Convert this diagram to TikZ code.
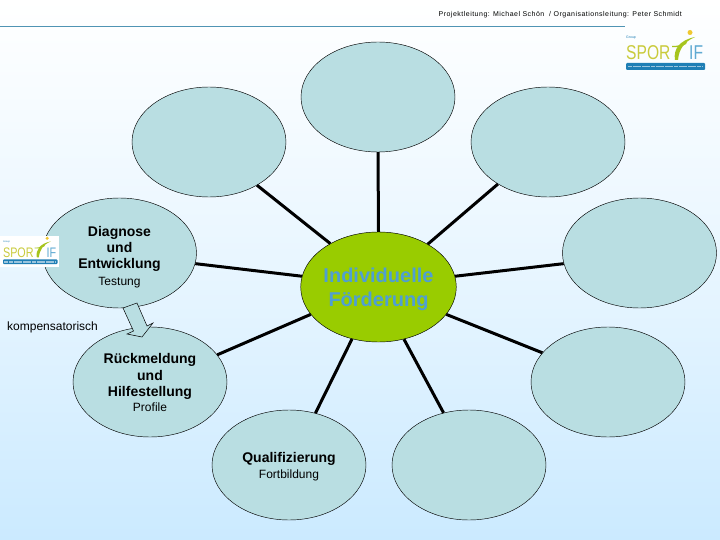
\documentclass[tikz,border=0pt]{standalone}
\usepackage{fontspec}
\usetikzlibrary{shapes.geometric}
\setmainfont{Liberation Sans}
\newfontfamily\headfont[LetterSpace=7]{Liberation Sans}
\definecolor{bubble}{HTML}{B9DEE2}
\definecolor{bgbottom}{HTML}{CBEAFF}
\definecolor{hubgreen}{HTML}{99CC00}
\definecolor{hubtext}{HTML}{4F9FD2}
\definecolor{rulecol}{HTML}{4F94B4}
\definecolor{logoolive}{HTML}{C9CB3C}
\definecolor{logoblue}{HTML}{5FAAD2}
\definecolor{logobar}{HTML}{1F7FB5}
\definecolor{logogreen}{HTML}{A6C41E}
\definecolor{logohead}{HTML}{F0C830}
\newcommand{\mainlabel}[2]{\raisebox{#1}[\height][\depth]{\begin{tabular}{@{}c@{}}#2\end{tabular}}}
\tikzset{
  x=1pt,y=-1pt,
  bubblenode/.style={ellipse,draw=black,line width=.45pt,fill=bubble,minimum width=154pt,minimum height=110pt,inner sep=0pt,text=black,font=\fontsize{14}{16.2}\selectfont},
  hubnode/.style={bubblenode,fill=hubgreen,text=hubtext,font=\fontsize{20}{24}\selectfont\bfseries},
  spoke/.style={line width=3pt,black},
  subtext/.style={font=\fontsize{12}{15}\selectfont},
  flowarrow/.style={draw=black,line width=.5pt,fill=bubble,line join=miter},
  logo/.pic={
    \node[anchor=west,inner sep=0pt,font=\fontsize{3.5}{4}\selectfont,text=logobar,transform shape] (logogroup) at (0,6) {Group};
    \node[anchor=west,inner sep=0pt,text=logoolive,font=\fontsize{20}{21}\selectfont,transform shape] (logospor) at (0,21) {\scalebox{.78}[1]{SPOR}};
    \node[anchor=west,inner sep=0pt,text=logoblue,font=\fontsize{20}{21}\selectfont,transform shape] (logoif) at (63,21) {\scalebox{.78}[1]{IF}};
    \fill[logogreen] (49,28) .. controls (47,17) and (54,8) .. (69,5) .. controls (58,10) and (53,17) .. (52,28) -- cycle;
    \fill[logogreen] (46,14) .. controls (52,14) and (56,13) .. (61,10) -- (60,12) .. controls (56,15) and (51,15.5) .. (46,15) -- cycle;
    \fill[logohead] (64,0.5) circle (2.5);
    \fill[logobar,rounded corners=1pt] (0,31) rectangle (79,38);
    \draw[white!55!logobar,line width=1.4pt,dash pattern=on 4pt off .6pt] (2,34.5) -- (77,34.5);
  }
}
\begin{document}
\begin{tikzpicture}
\useasboundingbox (0,0) rectangle (720,540);
\shade[top color=white,bottom color=bgbottom,middle color=bgbottom!45!white] (0,0) rectangle (720,540);
\coordinate (ruleL) at (0,26);
\coordinate (ruleR) at (625,26);
\draw[rulecol,line width=.8pt] (ruleL) -- (ruleR);
\node[anchor=east,inner sep=0pt,font=\headfont\fontsize{7}{9}\selectfont] (header) at (682,14.5) {Projektleitung: Michael Schön\ \ / Organisationsleitung: Peter Schmidt};

\node[hubnode] (hub) at (378.5,287) {\mainlabel{-3pt}{Individuelle\\Förderung}};
\node[bubblenode] (n1) at (378,97) {};
\node[bubblenode] (n2) at (548,142) {};
\node[bubblenode] (n3) at (639.5,253) {};
\node[bubblenode] (n4) at (608,382) {};
\node[bubblenode] (n5) at (469,465) {};
\node[bubblenode] (n6) at (289,465) {\mainlabel{-2.5pt}{\textbf{Qualifizierung}\\[-.5pt]{\fontsize{12}{14}\selectfont Fortbildung}}};
\node[bubblenode] (n7) at (150,382) {\mainlabel{-2.5pt}{\textbf{Rückmeldung}\\\textbf{und}\\\textbf{Hilfestellung}\\[-1pt]{\fontsize{12}{14}\selectfont Profile}}};
\node[bubblenode] (n8) at (119.5,253) {\mainlabel{-4.5pt}{\textbf{Diagnose}\\\textbf{und}\\\textbf{Entwicklung}\\{\fontsize{12}{14}\selectfont Testung}}};
\node[bubblenode] (n9) at (209,142) {};

\draw[spoke] (hub.90) -- (n1.270);
\draw[spoke] (hub.41.6) -- (n2.220);
\draw[spoke] (hub.8) -- (n3.188);
\draw[spoke] (hub.338) -- (n4.156);
\draw[spoke] (hub.296.6) -- (n5.116.6);
\draw[spoke] (hub.243.4) -- (n6.63.4);
\draw[spoke] (hub.202) -- (n7.22.4);
\draw[spoke] (hub.172) -- (n8.352);
\draw[spoke] (hub.138.4) -- (n9.318);

\draw[flowarrow] (123,308) -- (137,303) -- (147,326) -- (153,323) -- (142,337) -- (127,334) -- (133.5,331) -- cycle;
\node[anchor=west,inner sep=0pt,subtext] (komp) at (7,327.5) {kompensatorisch};

\pic at (626,32) {logo};
\fill[white] (0,236) rectangle (59,267);
\pic[scale=.69,transform shape] at (3,238) {logo};
\end{tikzpicture}
\end{document}
